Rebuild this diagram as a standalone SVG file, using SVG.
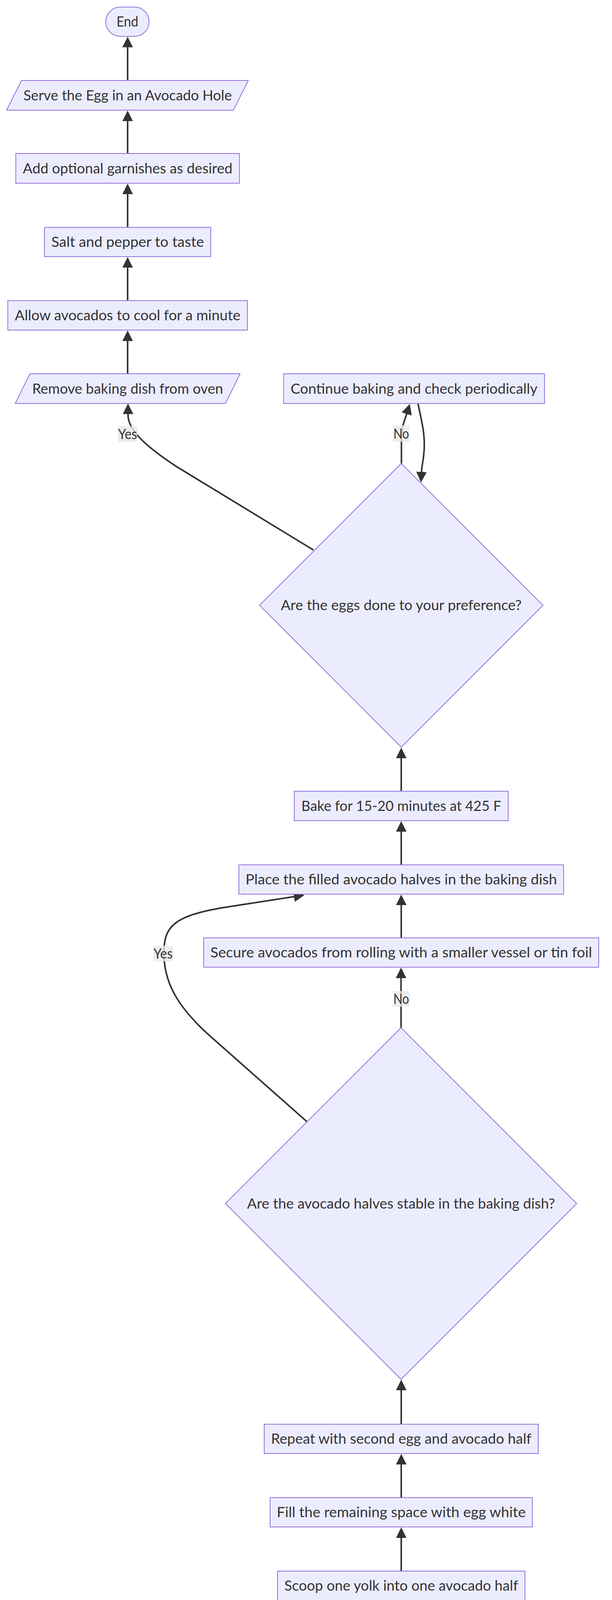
<svg xmlns="http://www.w3.org/2000/svg" width="1568" height="6384" viewBox="0 0 1568 6384">
<defs>
<style>
.nd rect,.nd polygon{fill:#ECECFF;stroke:#9370DB;stroke-width:2}
.nd text,.el text{font-family:Lato,"Liberation Sans",sans-serif;font-size:36px;fill:#333333;text-anchor:middle}
.e{fill:none;stroke:#333333;stroke-width:4;marker-end:url(#arr)}
.el rect{fill:#e8e8e8;fill-opacity:0.8}
</style>
<marker id="arr" viewBox="0 0 10 10" refX="8.52" refY="5" markerWidth="27" markerHeight="27" markerUnits="userSpaceOnUse" orient="auto">
<path d="M0,0 L10,5 L0,10 z" fill="#333333"/>
</marker>
</defs>
<rect width="1568" height="6384" fill="#ffffff"/>
<g id="edges">
<path class="e" d="M1027.5,6225 L1027.5,6117"/>
<path class="e" d="M1027.5,6037 L1027.5,5929"/>
<path class="e" d="M1027.5,5849 L1027.5,5741"/>
<path class="e" d="M1027.5,5661 L1027.5,5553"/>
<path class="e" d="M1027.5,4627 L1027.5,4478"/>
<path class="e" d="M790,4862 L600,4675 C515,4592 464,4530 464,4450 C464,4375 480,4345 580,4327 L796,4287"/>
<path class="e" d="M1028,4398 L1028,4290"/>
<path class="e" d="M1028,4210 L1028,4102"/>
<path class="e" d="M1028,4022 L1028,3914"/>
<path class="e" d="M1028,3834 L1028,3726"/>
<path class="e" d="M1028,3646 L1028,3536"/>
<path class="e" d="M1027.5,2631 L1027.5,2481"/>
<path class="e" d="M787,2872 L530,2645 C460,2580 420,2520 420,2440 C420,2375 440,2345 575,2323 L776,2292"/>
<path class="e" d="M1028,2401 L1028,2294"/>
<path class="e" d="M1028,2214 L1028,2106"/>
<path class="e" d="M1028,2025.5 L1028,1918"/>
<path class="e" d="M1028.5,1187 L1028.5,1125 C1028.5,1095 1035,1080 1041.1,1062.7 L1048.8,1037.8"/>
<path class="e" d="M1071,1034 C1082,1085 1088,1110 1087,1145 C1086,1175 1081,1190 1080.1,1205 L1078.7,1231"/>
<path class="e" d="M803,1408 L450,1193 C370,1140 328,1100 328,1062 L328,1037"/>
<path class="e" d="M327,957 L327,850"/>
<path class="e" d="M327,769.5 L327,662"/>
<path class="e" d="M327,582 L327,474"/>
<path class="e" d="M327,393 L327,287"/>
<path class="e" d="M327,206 L327,98"/>
</g>
<g id="edge-labels">
<g class="el"><rect x="302" y="1091" width="50" height="40"/><text x="327" y="1123.5" textLength="49" lengthAdjust="spacingAndGlyphs">Yes</text></g>
<g class="el"><rect x="1007" y="1089" width="42" height="42"/><text x="1028" y="1122.5" textLength="40" lengthAdjust="spacingAndGlyphs">No</text></g>
<g class="el"><rect x="393" y="2421" width="50" height="40"/><text x="418" y="2453.5" textLength="49" lengthAdjust="spacingAndGlyphs">Yes</text></g>
<g class="el"><rect x="1007" y="2537" width="42" height="40"/><text x="1028" y="2569.5" textLength="40" lengthAdjust="spacingAndGlyphs">No</text></g>
<g class="el"><rect x="438.5" y="4415" width="50.5" height="40.5"/><text x="463.7" y="4447.7" textLength="49" lengthAdjust="spacingAndGlyphs">Yes</text></g>
<g class="el"><rect x="1007" y="4532" width="42" height="40"/><text x="1028" y="4564.5" textLength="40" lengthAdjust="spacingAndGlyphs">No</text></g>
</g>
<g id="End" class="nd"><rect x="271" y="18" width="111" height="75" rx="37.5" ry="37.5"/><text x="326.5" y="68" textLength="56" lengthAdjust="spacingAndGlyphs">End</text></g>
<g id="Serve" class="nd"><polygon points="55,206 636,206 598,282 17,282"/><text x="327" y="256.5" textLength="534" lengthAdjust="spacingAndGlyphs">Serve the Egg in an Avocado Hole</text></g>
<g id="Garnish" class="nd"><rect x="40.5" y="393" width="573" height="76"/><text x="327" y="443.5" textLength="537" lengthAdjust="spacingAndGlyphs">Add optional garnishes as desired</text></g>
<g id="Salt" class="nd"><rect x="114" y="582" width="426" height="75"/><text x="327" y="632" textLength="391" lengthAdjust="spacingAndGlyphs">Salt and pepper to taste</text></g>
<g id="Cool" class="nd"><rect x="20" y="769.5" width="614" height="75.5"/><text x="327" y="819.5" textLength="578" lengthAdjust="spacingAndGlyphs">Allow avocados to cool for a minute</text></g>
<g id="RemoveDish" class="nd"><polygon points="76.5,957 615,957 577.5,1033 39,1033"/><text x="327" y="1007.5" textLength="489" lengthAdjust="spacingAndGlyphs">Remove baking dish from oven</text></g>
<g id="Continue" class="nd"><rect x="726.5" y="957" width="668.5" height="76"/><text x="1060.75" y="1007.5" textLength="632.5" lengthAdjust="spacingAndGlyphs">Continue baking and check periodically</text></g>
<g id="Done" class="nd"><polygon points="1028,1186.5 1391,1549.5 1028,1912.5 665,1549.5"/><text x="1028" y="1562" textLength="617" lengthAdjust="spacingAndGlyphs">Are the eggs done to your preference?</text></g>
<g id="Bake" class="nd"><rect x="754" y="2025.5" width="548" height="75.5"/><text x="1028" y="2075.5" textLength="512" lengthAdjust="spacingAndGlyphs">Bake for 15-20 minutes at 425 F</text></g>
<g id="Place" class="nd"><rect x="612" y="2214" width="832" height="75"/><text x="1028" y="2264" textLength="798" lengthAdjust="spacingAndGlyphs">Place the filled avocado halves in the baking dish</text></g>
<g id="Secure" class="nd"><rect x="522" y="2401" width="1012" height="75"/><text x="1028" y="2451" textLength="978" lengthAdjust="spacingAndGlyphs">Secure avocados from rolling with a smaller vessel or tin foil</text></g>
<g id="Stable" class="nd"><polygon points="1027.5,2631 1477.5,3081 1027.5,3531 577.5,3081"/><text x="1027.5" y="3093.5" textLength="789" lengthAdjust="spacingAndGlyphs">Are the avocado halves stable in the baking dish?</text></g>
<g id="Repeat" class="nd"><rect x="677" y="3646" width="702" height="75"/><text x="1028" y="3696" textLength="667" lengthAdjust="spacingAndGlyphs">Repeat with second egg and avocado half</text></g>
<g id="Fill" class="nd"><rect x="692" y="3834" width="672" height="75"/><text x="1028" y="3884" textLength="638" lengthAdjust="spacingAndGlyphs">Fill the remaining space with egg white</text></g>
<g id="Yolk" class="nd"><rect x="711" y="4022" width="634" height="75"/><text x="1028" y="4072" textLength="599" lengthAdjust="spacingAndGlyphs">Scoop one yolk into one avocado half</text></g>
<g id="Crack" class="nd"><rect x="782" y="4210" width="492" height="75"/><text x="1028" y="4260" textLength="456" lengthAdjust="spacingAndGlyphs">Crack eggs into a small bowl</text></g>
<g id="ScoopOut" class="nd"><rect x="568" y="4398" width="920" height="75"/><text x="1028" y="4448" textLength="886" lengthAdjust="spacingAndGlyphs">Scoop out a portion of the avocado to enlarge the hole</text></g>
<g id="Hole" class="nd"><polygon points="1027.5,4627 1488,5087.5 1027.5,5548 567,5087.5"/><text x="1027.5" y="5100" textLength="812" lengthAdjust="spacingAndGlyphs">Is the hole left by the pit large enough for an egg?</text></g>
<g id="Pit" class="nd"><rect x="763" y="5661" width="530" height="75"/><text x="1028" y="5711" textLength="496" lengthAdjust="spacingAndGlyphs">Remove the pit and compost it</text></g>
<g id="Slice" class="nd"><rect x="753" y="5849" width="550" height="75"/><text x="1028" y="5899" textLength="515" lengthAdjust="spacingAndGlyphs">Slice avocado in half lengthwise</text></g>
<g id="Preheat" class="nd"><rect x="835" y="6037" width="386" height="75"/><text x="1028" y="6087" textLength="352" lengthAdjust="spacingAndGlyphs">Preheat oven to 425 F</text></g>
<g id="Start" class="nd"><rect x="962" y="6225" width="131" height="75" rx="37.5" ry="37.5"/><text x="1027.5" y="6275" textLength="77" lengthAdjust="spacingAndGlyphs">Start</text></g>
</svg>
